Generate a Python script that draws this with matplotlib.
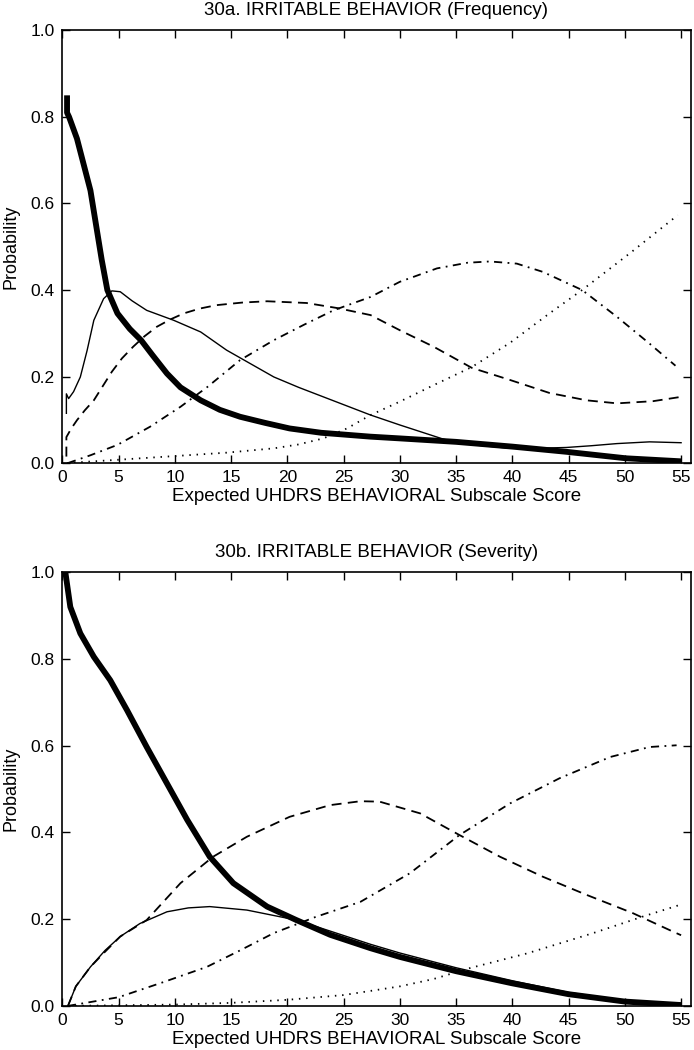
import matplotlib
matplotlib.use("Agg")
import matplotlib.pyplot as plt

plt.rcParams['font.family'] = ['Liberation Sans', 'DejaVu Sans']

# ---- 30a. Frequency ----
a_thick_x = [0.42, 0.42, 0.6, 1.3, 2.0, 2.5, 3.0, 3.5, 4.0, 4.9, 6.0, 7.0, 8.0, 9.3, 10.5, 12.3, 14.0,
             15.8, 18.0, 20.2, 23.0, 27.4, 30.0, 35.0, 40.0, 44.8, 50.1, 55.0]
a_thick_y = [0.85, 0.81, 0.80, 0.75, 0.68, 0.63, 0.55, 0.47, 0.40, 0.346, 0.31, 0.284, 0.25, 0.207, 0.175,
             0.145, 0.123, 0.107, 0.093, 0.080, 0.070, 0.061, 0.057, 0.049, 0.038, 0.026, 0.011, 0.004]

a_thin_x = [0.36, 0.36, 0.56, 1.0, 1.6, 2.2, 2.8, 3.67, 4.4, 5.15, 6.2, 7.5, 9.9, 12.3, 14.6, 16.7, 18.8,
            21.0, 23.2, 25.3, 27.4, 30.0, 33.9, 35.0, 37.0, 39.8, 42.0, 44.8, 47.0, 49.3, 52.2, 55.0]
a_thin_y = [0.115, 0.16, 0.149, 0.165, 0.199, 0.26, 0.33, 0.38, 0.398, 0.396, 0.375, 0.353, 0.33, 0.303,
            0.261, 0.23, 0.199, 0.175, 0.153, 0.132, 0.111, 0.088, 0.055, 0.049, 0.041, 0.034, 0.034,
            0.036, 0.040, 0.045, 0.049, 0.047]

a_dash_x = [0.36, 0.36, 0.8, 1.3, 2.0, 2.8, 3.6, 4.4, 5.3, 6.3, 7.3, 8.4, 9.6, 10.8, 12.2, 13.7, 16.0,
            18.2, 21.7, 24.5, 27.4, 30.0, 33.0, 36.4, 39.8, 43.3, 46.6, 49.3, 52.5, 55.0]
a_dash_y = [0.015, 0.06, 0.08, 0.099, 0.122, 0.145, 0.178, 0.211, 0.242, 0.269, 0.293, 0.315, 0.332, 0.346,
            0.357, 0.365, 0.371, 0.374, 0.370, 0.358, 0.342, 0.307, 0.269, 0.220, 0.192, 0.162, 0.145,
            0.138, 0.143, 0.153]

a_dashdot_x = [0.5, 2.5, 4.9, 7.8, 10.5, 12.9, 15.8, 18.8, 21.5, 24.1, 27.4, 30.0, 33.3, 36.0, 38.0,
               40.4, 42.7, 46.2, 49.3, 52.2, 54.5]
a_dashdot_y = [0.0, 0.018, 0.042, 0.084, 0.130, 0.176, 0.238, 0.284, 0.320, 0.353, 0.384, 0.419, 0.450,
               0.463, 0.466, 0.461, 0.442, 0.400, 0.338, 0.276, 0.225]

a_dot_x = [0.4, 5.2, 9.9, 14.6, 18.8, 21.0, 23.2, 25.3, 27.4, 30.0, 33.0, 36.4, 39.8, 43.3, 46.2, 50.4, 54.7]
a_dot_y = [0.0, 0.008, 0.016, 0.024, 0.034, 0.043, 0.057, 0.080, 0.111, 0.142, 0.180, 0.222, 0.278,
           0.346, 0.400, 0.484, 0.573]

# ---- 30b. Severity ----
b_thick_x = [0.27, 0.71, 1.6, 2.8, 4.26, 5.75, 7.5, 9.3, 11.1, 13.1, 15.2, 18.2, 20.8, 23.8, 27.4, 30.0,
             35.0, 40.0, 45.0, 50.0, 55.0]
b_thick_y = [1.0, 0.92, 0.859, 0.805, 0.751, 0.682, 0.597, 0.513, 0.429, 0.344, 0.283, 0.229, 0.198,
             0.164, 0.133, 0.113, 0.080, 0.052, 0.027, 0.010, 0.002]

b_thin_x = [0.5, 1.2, 2.5, 3.8, 5.15, 6.9, 9.3, 11.2, 13.1, 16.4, 20.8, 24.1, 27.4, 30.0, 35.0, 40.0,
            45.0, 50.0, 55.0]
b_thin_y = [0.0, 0.045, 0.09, 0.128, 0.160, 0.190, 0.217, 0.226, 0.229, 0.221, 0.198, 0.170, 0.142,
            0.122, 0.088, 0.058, 0.031, 0.012, 0.003]

b_dash_x = [0.5, 1.2, 2.5, 3.8, 5.15, 7.5, 10.5, 13.4, 16.4, 20.2, 23.8, 26.5, 28.2, 31.8, 35.3, 38.9,
            42.7, 46.6, 50.7, 54.3, 55.0]
b_dash_y = [0.0, 0.045, 0.09, 0.125, 0.160, 0.198, 0.283, 0.344, 0.390, 0.436, 0.463, 0.472, 0.471,
            0.444, 0.394, 0.344, 0.298, 0.256, 0.214, 0.171, 0.163]

b_dashdot_x = [0.5, 5.0, 9.0, 12.85, 15.8, 18.8, 22.5, 26.5, 30.9, 35.3, 39.8, 44.2, 48.7, 52.2, 54.6]
b_dashdot_y = [0.0, 0.02, 0.055, 0.090, 0.128, 0.168, 0.205, 0.240, 0.306, 0.394, 0.467, 0.525, 0.574,
               0.597, 0.601]

b_dot_x = [0.5, 10.0, 15.0, 20.0, 25.0, 30.0, 33.0, 36.2, 41.3, 47.2, 51.6, 54.9]
b_dot_y = [0.0, 0.003, 0.007, 0.014, 0.025, 0.045, 0.062, 0.087, 0.121, 0.168, 0.206, 0.233]

xticks = [0, 5, 10, 15, 20, 25, 30, 35, 40, 45, 50, 55]
yticks = [0.0, 0.2, 0.4, 0.6, 0.8, 1.0]

fig = plt.figure(figsize=(6.94, 10.5), dpi=100)
ax1 = fig.add_axes([0.089, 0.559, 0.907, 0.412])
ax2 = fig.add_axes([0.089, 0.042, 0.907, 0.413])


def draw(ax, title, thick, thin, dash, dashdot, dot):
    ax.plot(dot[0], dot[1], color='black', lw=1.3, linestyle=(0, (0.8, 3.2)))
    ax.plot(dashdot[0], dashdot[1], color='black', lw=1.3, linestyle=(0, (4.5, 3, 1, 3)))
    ax.plot(dash[0], dash[1], color='black', lw=1.3, linestyle=(0, (5.5, 3.5)))
    ax.plot(thin[0], thin[1], color='black', lw=1.0)
    ax.plot(thick[0], thick[1], color='black', lw=4.2, solid_capstyle='butt')
    ax.set_xlim(-0.05, 55.9)
    ax.set_ylim(0, 1.0)
    ax.set_xticks(xticks)
    ax.set_yticks(yticks)
    ax.set_yticklabels(['%.1f' % v for v in yticks])
    ax.tick_params(direction='in', top=True, right=True, length=6, width=1, labelsize=12.5)
    ax.tick_params(axis='x', pad=5)
    ax.tick_params(axis='y', pad=5)
    for s in ax.spines.values():
        s.set_linewidth(1.2)
    ax.set_title(title, fontsize=13.5, pad=11)
    ax.set_xlabel('Expected UHDRS BEHAVIORAL Subscale Score', fontsize=13.5, labelpad=2)
    ax.set_ylabel('Probability', fontsize=13, labelpad=8)


draw(ax1, '30a. IRRITABLE BEHAVIOR (Frequency)', (a_thick_x, a_thick_y), (a_thin_x, a_thin_y),
     (a_dash_x, a_dash_y), (a_dashdot_x, a_dashdot_y), (a_dot_x, a_dot_y))
draw(ax2, '30b. IRRITABLE BEHAVIOR (Severity)', (b_thick_x, b_thick_y), (b_thin_x, b_thin_y),
     (b_dash_x, b_dash_y), (b_dashdot_x, b_dashdot_y), (b_dot_x, b_dot_y))

fig.savefig('out.png', dpi=100)
